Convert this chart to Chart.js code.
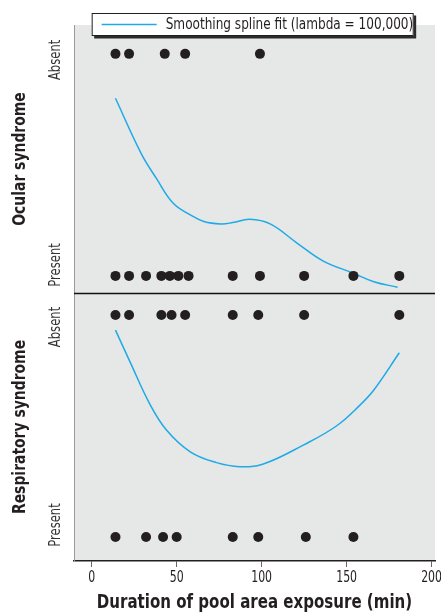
<!DOCTYPE html>
<html>
<head>
<meta charset="utf-8">
<script src="https://cdn.jsdelivr.net/npm/chart.js@4.4.1/dist/chart.umd.min.js"></script>
<style>
  html, body { margin: 0; padding: 0; background: #fff; }
</style>
</head>
<body>
<canvas id="chart" width="441" height="614"></canvas>
<script>
// Exposure durations (min) per outcome
const ocularAbsent = [14, 22, 43, 55, 99];
const ocularPresent = [14, 22, 32, 41, 46, 51, 57, 83, 99, 125, 154, 181];
const respAbsent = [14, 22, 41, 47, 55, 83, 98, 125, 181];
const respPresent = [14, 32, 42, 50, 83, 98, 126, 154];

// Smoothing spline fits (0 = Present, 1 = Absent)
const ocularFitX = [14, 29, 38, 48, 58, 66, 76, 83, 93, 105, 121, 136, 154, 166, 180];
const ocularFitY = [0.80, 0.553, 0.44, 0.327, 0.275, 0.245, 0.234, 0.240, 0.255, 0.234, 0.147, 0.068, 0.012, -0.026, -0.051];
const respFitX = [14, 22.5, 34, 44, 58, 73.5, 87, 101, 124.5, 144, 158, 166, 181];
const respFitY = [0.932, 0.79, 0.602, 0.482, 0.384, 0.335, 0.317, 0.329, 0.414, 0.50, 0.595, 0.662, 0.83];

const xTicks = [0, 50, 100, 150, 200];
const yLabels = ['Present', 'Absent'];
const fitLabel = 'Smoothing spline fit (lambda = 100,000)';
const xTitle = 'Duration of pool area exposure (min)';
const panelTitles = {yO: 'Ocular syndrome', yR: 'Respiratory syndrome'};

const FONT = '"DejaVu Sans Condensed", "DejaVu Sans", sans-serif';
const INK = '#231f20';
const BLUE = '#1eaae7';

function dots(xs, v) { return xs.map(x => ({x: x, y: v})); }
function fit(xs, ys) { return xs.map((x, i) => ({x: x, y: ys[i]})); }

// condensed text: horizontal squeeze to get the narrow face of the original
function txt(ctx, s, x, y, size, bold, sx, rot, align, color) {
  ctx.save();
  ctx.translate(x, y);
  if (rot) ctx.rotate(rot);
  ctx.scale(sx, 1);
  ctx.font = (bold ? 'bold ' : '') + size + 'px ' + FONT;
  ctx.fillStyle = color || INK;
  ctx.textAlign = align || 'center';
  ctx.textBaseline = 'middle';
  ctx.fillText(s, 0, 0);
  ctx.restore();
}

const dotStyle = {type: 'scatter', pointRadius: 5, pointHoverRadius: 5, backgroundColor: INK, borderWidth: 0};
const lineStyle = {type: 'line', borderColor: BLUE, borderWidth: 1.5, pointRadius: 0, tension: 0.4, fill: false};

const panelBits = {
  id: 'panelBits',
  beforeDraw(chart) {
    const {ctx, chartArea: a} = chart;
    ctx.save();
    ctx.fillStyle = '#e6e7e7';
    ctx.fillRect(a.left, a.top, a.right - a.left, a.bottom - a.top);
    ctx.restore();
  },
  beforeDatasetsDraw(chart) {
    const {ctx, chartArea: a} = chart;
    const y = Math.round(chart.scales.yR.top) + 0.5;
    ctx.save();
    ctx.strokeStyle = '#111';
    ctx.lineWidth = 1.3;
    ctx.beginPath();
    ctx.moveTo(a.left, y);
    ctx.lineTo(a.right, y);
    ctx.stroke();
    ctx.restore();
  },
  afterDraw(chart) {
    const {ctx} = chart;
    const xs = chart.scales.x;

    // x tick labels and title
    xTicks.forEach(v => txt(ctx, String(v), xs.getPixelForValue(v), xs.top + 17, 16, false, 0.76));
    txt(ctx, xTitle, (xs.left + xs.right) / 2, 603, 19, true, 0.88);

    // panel titles and Absent / Present labels
    [['yO', 6, -11], ['yR', 12, -12]].forEach(([id, dA, dP]) => {
      const s = chart.scales[id];
      txt(ctx, panelTitles[id], 20, (s.top + s.bottom) / 2, 18, true, 0.86, -Math.PI / 2);
      txt(ctx, yLabels[1], 56, s.getPixelForValue(1) + dA, 15, false, 0.86, -Math.PI / 2, 'center', '#333');
      txt(ctx, yLabels[0], 56, s.getPixelForValue(0) + dP, 15, false, 0.86, -Math.PI / 2, 'center', '#333');
    });

    // legend box
    const left = xs.getPixelForValue(0);
    const top = chart.chartArea.top - 12;
    const w = 322, h = 23;
    ctx.save();
    ctx.fillStyle = '#2b2b2b';
    ctx.fillRect(left + 2.5, top + 2.5, w, h);
    ctx.fillStyle = '#fff';
    ctx.fillRect(left, top, w, h);
    ctx.strokeStyle = INK;
    ctx.lineWidth = 1;
    ctx.strokeRect(left + 0.5, top + 0.5, w - 1, h - 1);
    ctx.strokeStyle = BLUE;
    ctx.lineWidth = 1.5;
    ctx.beginPath();
    ctx.moveTo(left + 10, top + h / 2);
    ctx.lineTo(left + 65, top + h / 2);
    ctx.stroke();
    ctx.restore();
    txt(ctx, fitLabel, left + 74, top + h / 2 + 0.5, 16, false, 0.84, 0, 'left');
  }
};

function yAxis(min, max) {
  return {
    type: 'linear', position: 'left', stack: 'panels', stackWeight: 1,
    min: min, max: max,
    grid: {display: false},
    ticks: {display: false},
    border: {display: true, color: '#9a9a9a', width: 1},
    afterFit(s) { s.width = 74; s.paddingTop = 0; s.paddingBottom = 0; }
  };
}

new Chart(document.getElementById('chart'), {
  data: {
    datasets: [
      Object.assign({label: 'Ocular absent', data: dots(ocularAbsent, 1), yAxisID: 'yO'}, dotStyle),
      Object.assign({label: 'Ocular present', data: dots(ocularPresent, 0), yAxisID: 'yO'}, dotStyle),
      Object.assign({label: fitLabel, data: fit(ocularFitX, ocularFitY), yAxisID: 'yO'}, lineStyle),
      Object.assign({label: 'Respiratory absent', data: dots(respAbsent, 1), yAxisID: 'yR'}, dotStyle),
      Object.assign({label: 'Respiratory present', data: dots(respPresent, 0), yAxisID: 'yR'}, dotStyle),
      Object.assign({label: fitLabel, data: fit(respFitX, respFitY), yAxisID: 'yR'}, lineStyle)
    ]
  },
  options: {
    responsive: false,
    animation: false,
    layout: {padding: {top: 25, right: 6, left: 0, bottom: 0}},
    plugins: {legend: {display: false}, tooltip: {enabled: false}},
    scales: {
      x: {
        type: 'linear', position: 'bottom', min: -10.4, max: 202,
        afterBuildTicks(s) { s.ticks = xTicks.map(v => ({value: v})); },
        grid: {drawOnChartArea: false, drawTicks: true, tickLength: 6, color: '#666'},
        border: {display: true, color: INK, width: 1.5},
        ticks: {display: false},
        afterFit(s) { s.height = 53; s.paddingLeft = 0; s.paddingRight = 0; }
      },
      yR: yAxis(-0.108, 1.099),
      yO: yAxis(-0.077, 1.13)
    }
  },
  plugins: [panelBits]
});
</script>
</body>
</html>
